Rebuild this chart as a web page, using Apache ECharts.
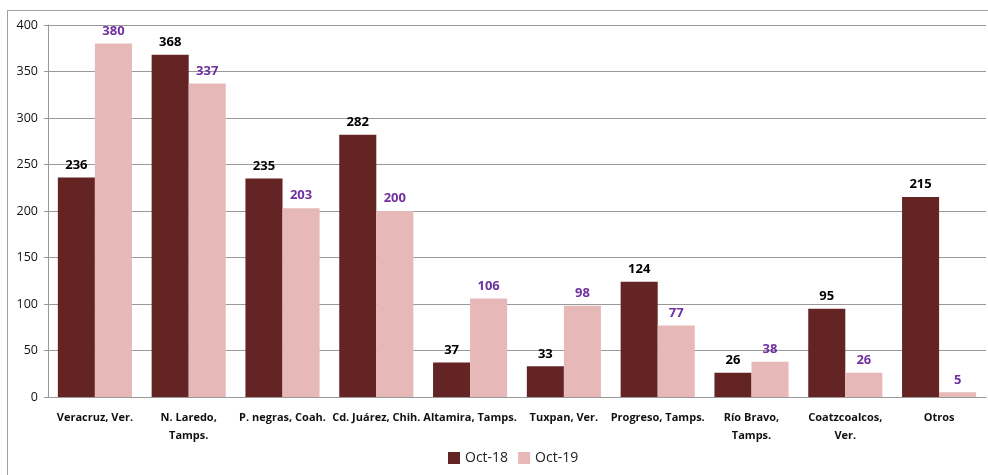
<!DOCTYPE html>
<html>
<head>
<meta charset="utf-8">
<script src="https://cdn.jsdelivr.net/npm/echarts@6/dist/echarts.min.js"></script>
<style>
  html, body { margin: 0; padding: 0; background: #fff; }
  #frame { position: absolute; left: 7px; top: 10px; width: 990px; height: 480px; border: 1px solid #a0a0a0; }
  #chart { position: absolute; left: 0; top: 0; width: 988px; height: 475px; }
</style>
</head>
<body>
<div id="frame"></div>
<div id="chart"></div>
<script>
var ports = ['Veracruz, Ver.', 'N. Laredo,\nTamps.', 'P. negras, Coah.', 'Cd. Juárez, Chih.', 'Altamira, Tamps.',
  'Tuxpan, Ver.', 'Progreso, Tamps.', 'Río Bravo,\nTamps.', 'Coatzcoalcos,\nVer.', 'Otros'];
var oct18 = [236, 368, 235, 282, 37, 33, 124, 26, 95, 215];
var oct19 = [380, 337, 203, 200, 106, 98, 77, 38, 26, 5];

var font = 'Open Sans';
var chart = echarts.init(document.getElementById('chart'));
chart.setOption({
  animation: false,
  textStyle: { fontFamily: font },
  grid: { left: 48, right: 2, top: 25, bottom: 78, containLabel: false },
  legend: {
    bottom: 5,
    left: 443,
    itemWidth: 12,
    itemHeight: 12,
    itemGap: 10,
    icon: 'rect',
    textStyle: { fontSize: 14, color: '#222', fontFamily: font },
    data: ['Oct-18', 'Oct-19']
  },
  xAxis: {
    type: 'category',
    data: ports,
    axisLine: { lineStyle: { color: '#999' } },
    axisTick: { lineStyle: { color: '#999' }, length: 5 },
    axisLabel: { interval: 0, fontSize: 11, fontWeight: 'bold', color: '#111', margin: 12, lineHeight: 18 }
  },
  yAxis: {
    type: 'value',
    min: 0,
    max: 400,
    interval: 50,
    axisLine: { show: true, lineStyle: { color: '#999' } },
    axisTick: { show: true, lineStyle: { color: '#999' }, length: 4 },
    splitLine: { lineStyle: { color: '#999' } },
    axisLabel: { fontSize: 12.5, color: '#111', margin: 10 }
  },
  series: [
    {
      name: 'Oct-18',
      type: 'bar',
      data: oct18,
      barGap: '0%',
      barCategoryGap: '21%',
      itemStyle: { color: '#632423' },
      label: { show: true, position: 'top', fontSize: 13, fontWeight: 'bold', color: '#000', distance: 6 }
    },
    {
      name: 'Oct-19',
      type: 'bar',
      data: oct19,
      itemStyle: { color: '#e6b9b8' },
      label: { show: true, position: 'top', fontSize: 13, fontWeight: 'bold', color: '#7030a0', distance: 6 }
    }
  ]
});
</script>
</body>
</html>
